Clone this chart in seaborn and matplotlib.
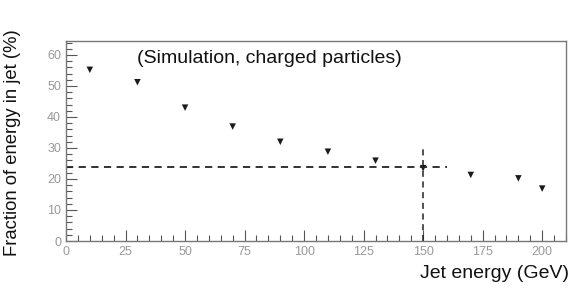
import numpy as np
import pandas as pd
import matplotlib
matplotlib.use("Agg")
import matplotlib.pyplot as plt
import seaborn as sns
from matplotlib.ticker import MultipleLocator

# values
jet_energy = [10, 30, 50, 70, 90, 110, 130, 150, 170, 190, 200]
energy_fraction = [55.2, 51.2, 43.0, 36.9, 32.0, 28.8, 25.9, 23.5, 21.3, 20.2, 16.9]
cut_energy = 150
cut_fraction = 24

sns.set_theme(style="white")
plt.rcParams['font.family'] = ['Liberation Sans', 'DejaVu Sans']

df = pd.DataFrame({"E": jet_energy, "frac": energy_fraction})

fig = plt.figure(figsize=(5.87, 2.91), dpi=100)
ax = fig.add_axes([66 / 587, 50 / 291, 500 / 587, 200 / 291])

sns.scatterplot(data=df, x="E", y="frac", marker="v", s=22, color="#1a1a1a",
                edgecolor="none", ax=ax, legend=False)

# dashed guide lines
ax.plot([0, 160], [cut_fraction, cut_fraction], ls=(0, (4, 3)), color="#222222", lw=1.3)
ax.plot([cut_energy, cut_energy], [0, 30], ls=(0, (4, 3)), color="#222222", lw=1.1)

ax.set_xlim(0, 210)
ax.set_ylim(0, 64.5)
ax.xaxis.set_major_locator(MultipleLocator(25))
ax.xaxis.set_minor_locator(MultipleLocator(5))
ax.yaxis.set_major_locator(MultipleLocator(10))
ax.yaxis.set_minor_locator(MultipleLocator(2))
ax.tick_params(which="both", direction="in", colors="#555555", labelcolor="#999999",
               labelsize=9, top=False, right=False, left=True, bottom=True, width=0.8)
ax.tick_params(which="major", length=8)
ax.tick_params(which="minor", length=4)
for sp in ax.spines.values():
    sp.set_color("#777777")
    sp.set_linewidth(1.0)

ax.set_xlabel("Jet energy (GeV)", fontsize=14, color="#111111", ha="right")
ax.xaxis.set_label_coords(1.006, -0.12)
ax.set_ylabel("Fraction of energy in jet (%)", fontsize=13.3, color="#111111")
ax.yaxis.set_label_coords(-0.09, 0.49)
ax.text(30, 59, "(Simulation, charged particles)", fontsize=14, color="#111111",
        ha="left", va="center")

fig.savefig("out.png", dpi=100)
